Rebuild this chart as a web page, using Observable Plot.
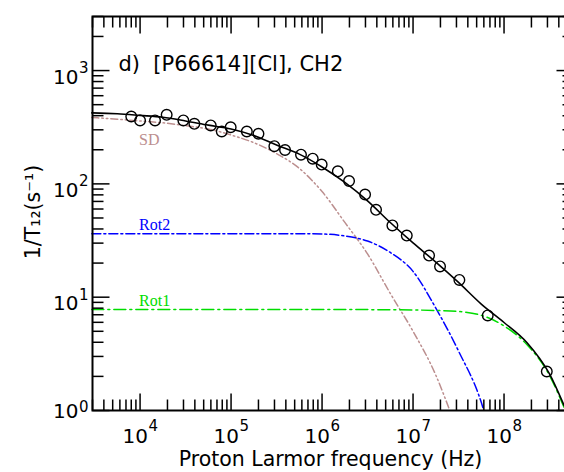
<!DOCTYPE html>
<html><head><meta charset="utf-8">
<script src="https://cdn.jsdelivr.net/npm/d3@7"></script>
<script src="https://cdn.jsdelivr.net/npm/@observablehq/plot@0.6"></script>
<style>
html,body{margin:0;padding:0;background:#fff;overflow:hidden;}
#chart svg{display:block;}
</style></head>
<body><div id="chart"></div>
<script>
// Experimental points (Hz, s^-1)
const expFreq = [8.0e3, 1.0e4, 1.46e4, 1.96e4, 2.99e4, 3.95e4, 5.98e4, 7.9e4, 9.9e4, 1.49e5, 2.0e5, 2.99e5, 3.92e5, 5.87e5, 7.9e5, 9.9e5, 1.49e6, 1.98e6, 2.97e6, 3.92e6, 5.93e6, 8.53e6, 1.5e7, 1.98e7, 3.23e7, 6.62e7, 2.95e8];
const expRate = [393, 363, 363, 407, 363, 339, 328, 290, 316, 290, 277, 215, 199, 181, 167, 148, 129, 106, 80.6, 59, 43, 35, 23.3, 18.7, 14.2, 6.9, 2.21];

// Total fit
const fitFreq = [2.95e3, 5.62e3, 1e4, 1.78e4, 3.16e4, 5.62e4, 1e5, 1.78e5, 3.16e5, 5.62e5, 1e6, 1.78e6, 3.16e6, 5.62e6, 1e7, 1.78e7, 3.16e7, 5.62e7, 1e8, 1.78e8, 3.16e8, 4.56e8];
const fitTotal = [423, 416, 402, 387, 359, 330, 305, 267, 220, 183, 141, 103, 70.8, 45.6, 30.1, 20.4, 13.5, 8.7, 5.98, 3.98, 2.10, 1.11];

// SD component
const sdFreq = [2.95e3, 5.62e3, 1e4, 1.78e4, 3.16e4, 5.62e4, 1e5, 1.78e5, 3.16e5, 5.62e5, 1e6, 1.78e6, 3.16e6, 5.62e6, 1e7, 1.78e7, 2.5e7];
const sdRate = [386, 372, 359, 346, 326, 305, 270, 231, 185, 137, 85.5, 45.7, 24.1, 10.8, 5.0, 2.05, 1.03];

// Rot2 component
const rot2Freq = [2.95e3, 3.16e4, 3.16e5, 5.62e5, 1e6, 1.78e6, 3.16e6, 5.62e6, 1e7, 1.78e7, 3.16e7, 5.62e7, 5.95e7];
const rot2Rate = [36.3, 36.3, 36.3, 36.3, 36.1, 34.7, 31.3, 24.8, 16.9, 8.0, 3.35, 1.18, 1.02];

// Rot1 component
const rot1Freq = [2.95e3, 1e6, 1e7, 1.78e7, 3.16e7, 5.62e7, 1e8, 1.78e8, 3.16e8, 4.56e8];
const rot1Rate = [7.79, 7.79, 7.71, 7.63, 7.48, 6.92, 5.58, 3.82, 2.04, 1.07];

// Ticks and labels
const xMajor = [1e4, 1e5, 1e6, 1e7, 1e8];
const xExp = ["4", "5", "6", "7", "8"];
const yMajor = [1, 10, 100, 1000];
const yExp = ["0", "1", "2", "3"];
const minorMult = [2, 3, 4, 5, 6, 7, 8, 9];
const xDomain = [3e3, 5.8e8];
const yDomain = [1, 3000];

const titleText = "d)\u00a0\u00a0[P66614][Cl], CH2";
const xLabel = "Proton Larmor frequency (Hz)";
const yLabel = "1/T\u2081\u2082(s\u207b\u00b9)";
const compLabels = ["SD", "Rot2", "Rot1"];
const compLabelX = [9.75e3, 9.75e3, 9.75e3];
const compLabelY = [222, 39.2, 8.28];
const compColors = ["#bc8f8f", "#0000ff", "#00dd00"];

const xMinor = [];
for (const d of [1e3, 1e4, 1e5, 1e6, 1e7, 1e8]) for (const m of minorMult) {
  const v = d * m; if (v >= xDomain[0] && v <= xDomain[1]) xMinor.push(v);
}
const yMinor = [];
for (const d of [1, 10, 100, 1000]) for (const m of minorMult) {
  const v = d * m; if (v >= yDomain[0] && v <= yDomain[1]) yMinor.push(v);
}

const W = 564, H = 472, mT = 16, mB = 62, mL = 92, mR = -9;
const frameW = W - mL - mR, frameH = H - mT - mB;
const majorLen = 17, minorLen = 11;
// tick lengths expressed as factors in the log scales' data space
const xPerDec = frameW / Math.log10(xDomain[1] / xDomain[0]);
const yPerDec = frameH / Math.log10(yDomain[1] / yDomain[0]);
const xMajF = 10 ** (majorLen / xPerDec), xMinF = 10 ** (minorLen / xPerDec);
const yMajF = 10 ** (majorLen / yPerDec), yMinF = 10 ** (minorLen / yPerDec);

const idx = a => a.map((_, i) => i);
const tk = {stroke: "#000000", strokeWidth: 1.5, strokeOpacity: 1};

const chart = Plot.plot({
  width: W, height: H,
  marginTop: mT, marginBottom: mB, marginLeft: mL, marginRight: mR,
  style: {fontFamily: "DejaVu Sans", background: "white"},
  x: {type: "log", domain: xDomain, axis: null},
  y: {type: "log", domain: yDomain, axis: null},
  marks: [
    // model curves
    Plot.line(idx(sdFreq), {x: i => sdFreq[i], y: i => sdRate[i], stroke: compColors[0], strokeWidth: 1.5, strokeDasharray: "7,3,1.5,3,1.5,3", curve: "monotone-x"}),
    Plot.line(idx(rot2Freq), {x: i => rot2Freq[i], y: i => rot2Rate[i], stroke: compColors[1], strokeWidth: 1.5, strokeDasharray: "9,3,2,3", curve: "monotone-x"}),
    Plot.line(idx(rot1Freq), {x: i => rot1Freq[i], y: i => rot1Rate[i], stroke: compColors[2], strokeWidth: 1.5, strokeDasharray: "12,4,2,4", curve: "monotone-x"}),
    Plot.line(idx(fitFreq), {x: i => fitFreq[i], y: i => fitTotal[i], stroke: "black", strokeWidth: 1.6, curve: "monotone-x"}),
    Plot.dot(idx(expFreq), {x: i => expFreq[i], y: i => expRate[i], r: 5.3, stroke: "black", strokeWidth: 1.4, fill: "none"}),
    Plot.frame({stroke: "black", strokeWidth: 2}),
    // ticks pointing inward (bottom, top, left, right), drawn as path links
    Plot.link(xMajor, {x1: d => d, x2: d => d, y1: () => yDomain[0], y2: () => yDomain[0] * yMajF, ...tk}),
    Plot.link(xMinor, {x1: d => d, x2: d => d, y1: () => yDomain[0], y2: () => yDomain[0] * yMinF, ...tk}),
    Plot.link(xMajor, {x1: d => d, x2: d => d, y1: () => yDomain[1], y2: () => yDomain[1] / yMajF, ...tk}),
    Plot.link(xMinor, {x1: d => d, x2: d => d, y1: () => yDomain[1], y2: () => yDomain[1] / yMinF, ...tk}),
    Plot.link(yMajor, {y1: d => d, y2: d => d, x1: () => xDomain[0], x2: () => xDomain[0] * xMajF, ...tk}),
    Plot.link(yMinor, {y1: d => d, y2: d => d, x1: () => xDomain[0], x2: () => xDomain[0] * xMinF, ...tk}),
    Plot.link(yMajor, {y1: d => d, y2: d => d, x1: () => xDomain[1], x2: () => xDomain[1] / xMajF, ...tk}),
    Plot.link(yMinor, {y1: d => d, y2: d => d, x1: () => xDomain[1], x2: () => xDomain[1] / xMinF, ...tk}),
    // x tick labels
    Plot.text(xMajor, {x: d => d, frameAnchor: "bottom", text: () => "10", textAnchor: "end", lineAnchor: "bottom", dx: 8, dy: 32, fontSize: 20, fill: "black"}),
    Plot.text(xMajor, {x: d => d, frameAnchor: "bottom", text: (d, i) => xExp[i], textAnchor: "start", lineAnchor: "bottom", dx: 8.5, dy: 20, fontSize: 15, fill: "black"}),
    // y tick labels
    Plot.text(yMajor.slice(1), {y: d => d, frameAnchor: "left", text: () => "10", textAnchor: "end", lineAnchor: "bottom", dx: -14, dy: 13, fontSize: 20, fill: "black"}),
    Plot.text(yMajor.slice(1), {y: d => d, frameAnchor: "left", text: (d, i) => yExp[i + 1], textAnchor: "start", lineAnchor: "bottom", dx: -13.5, dy: 2.5, fontSize: 15, fill: "black"}),
    Plot.text(yMajor.slice(0, 1), {y: d => d, frameAnchor: "left", text: () => "10", textAnchor: "end", lineAnchor: "bottom", dx: -14, dy: 7.7, fontSize: 20, fill: "black"}),
    Plot.text(yMajor.slice(0, 1), {y: d => d, frameAnchor: "left", text: () => yExp[0], textAnchor: "start", lineAnchor: "bottom", dx: -13.5, dy: 1, fontSize: 15, fill: "black"}),
    // component labels
    Plot.text([compLabels[0]], {x: () => compLabelX[0], y: () => compLabelY[0], text: d => d, fill: compColors[0], fontFamily: "Liberation Serif", fontSize: 16, textAnchor: "start", lineAnchor: "bottom"}),
    Plot.text([compLabels[1]], {x: () => compLabelX[1], y: () => compLabelY[1], text: d => d, fill: compColors[1], fontFamily: "Liberation Serif", fontSize: 16, textAnchor: "start", lineAnchor: "bottom"}),
    Plot.text([compLabels[2]], {x: () => compLabelX[2], y: () => compLabelY[2], text: d => d, fill: compColors[2], fontFamily: "Liberation Serif", fontSize: 16, textAnchor: "start", lineAnchor: "bottom"}),
    // title and axis labels
    Plot.text([titleText], {frameAnchor: "top-left", text: d => d, textAnchor: "start", lineAnchor: "bottom", dx: 26, dy: 54.5, fontSize: 21, fill: "black"}),
    Plot.text([xLabel], {frameAnchor: "bottom", text: d => d, textAnchor: "middle", lineAnchor: "bottom", dx: -2.5, dy: 55, fontSize: 20.5, fill: "black"}),
    Plot.text([yLabel], {frameAnchor: "left", text: d => d, rotate: -90, textAnchor: "middle", lineAnchor: "middle", dx: -59, dy: -1.5, fontSize: 20.5, fill: "black"})
  ]
});
document.getElementById("chart").appendChild(chart);
</script>
</body></html>
